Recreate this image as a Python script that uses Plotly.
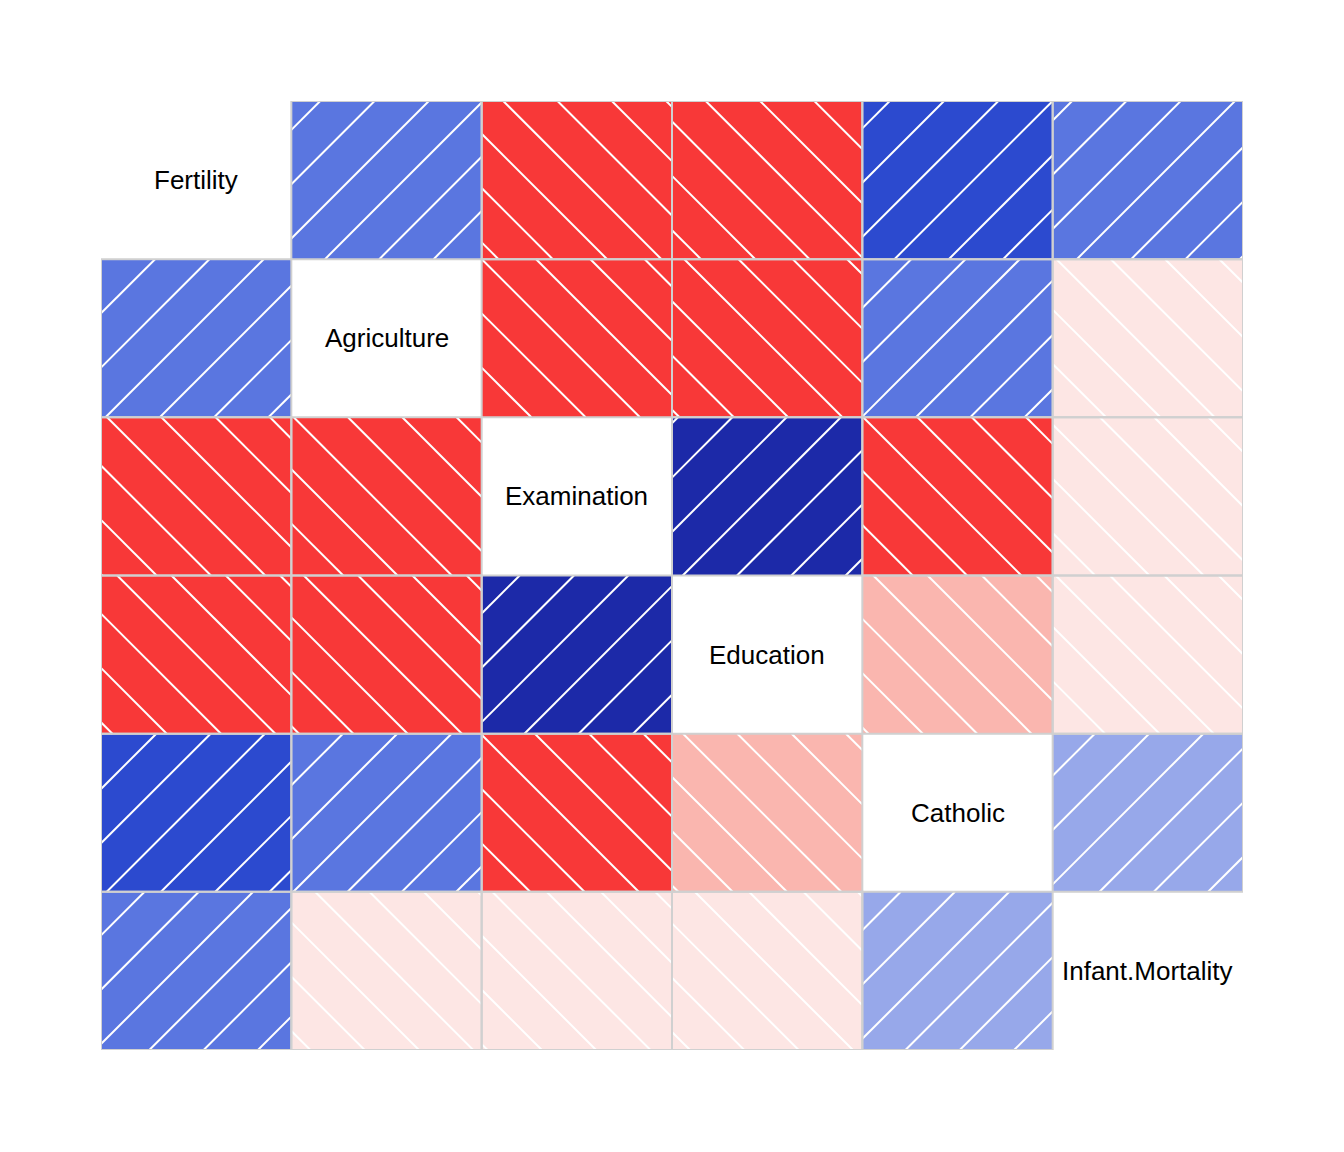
import math
import plotly.graph_objects as go

# ---------------- data ----------------
variables = ["Fertility", "Agriculture", "Examination", "Education", "Catholic", "Infant.Mortality"]
# observed range of each variable (sets the hatch phase of each panel)
var_min = [35.0, 1.2, 3.0, 1.0, 2.15, 10.8]
var_max = [92.5, 89.7, 37.0, 53.0, 100.0, 26.6]

corr = [
    [1.000, 0.353, -0.646, -0.664, 0.464, 0.417],
    [0.353, 1.000, -0.687, -0.640, 0.401, -0.061],
    [-0.646, -0.687, 1.000, 0.698, -0.573, -0.114],
    [-0.664, -0.640, 0.698, 1.000, -0.154, -0.099],
    [0.464, 0.401, -0.573, -0.154, 1.000, 0.175],
    [0.417, -0.061, -0.114, -0.099, 0.175, 1.000],
]

# 14-step shading palette (red -> salmon -> white -> royalblue -> navy)
palette = ["#FF0000", "#FB2020", "#F83838", "#F86A62", "#F99088", "#FAB6AF", "#FDE6E4",
           "#E0E6FA", "#97A8EA", "#5A76E0", "#2C4ACF", "#1C29A8", "#0E1A98", "#000080"]

# ---------------- geometry ----------------
W, H = 1344, 1152
PAGE_OFF = 8                      # default body margin of the html page
ML, MT = 101 - PAGE_OFF, 101 - PAGE_OFF
PW_TOT, PH_TOT = 1142, 949
MR, MB = W - ML - PW_TOT, H - MT - PH_TOT
n = len(variables)
pw = PW_TOT / n      # pixels per cell (x)
ph = PH_TOT / n      # pixels per cell (y)
spacing = 192 / 5 * math.sqrt(2)   # density 5 lines/inch at 192 dpi, 45 deg


def bin_index(r):
    k = int((r + 1) / (2 / 14))
    return min(max(k, 0), 13)


shapes = []
hx, hy = [], []
for i in range(n):
    for j in range(n):
        if i == j:
            continue
        r = corr[i][j]
        col = palette[bin_index(r)]
        shapes.append(dict(type="rect", xref="x", yref="y", x0=j, x1=j + 1, y0=i, y1=i + 1,
                           fillcolor=col, line=dict(width=0), layer="below"))
        shapes.append(dict(type="rect", xref="x", yref="y", x0=j, x1=j + 1, y0=i, y1=i + 1,
                           fillcolor="rgba(0,0,0,0)", line=dict(color="#D0D0D0", width=2),
                           layer="above"))
        # hatch lines anchored at the panel's user-coordinate origin
        L, R = j * pw, (j + 1) * pw
        T, B = i * ph, (i + 1) * ph
        xs = var_max[j] - var_min[j]
        xlo, xhi = var_min[j] - 0.04 * xs, var_max[j] + 0.04 * xs
        ys = var_max[i] - var_min[i]
        ylo, yhi = var_min[i] - 0.04 * ys, var_max[i] + 0.04 * ys
        ox = L + (0 - xlo) / (xhi - xlo) * pw
        oy = T + (yhi - 0) / (yhi - ylo) * ph
        if r > 0:
            c0 = ox + oy
            cmin, cmax = L + T, R + B
        else:
            c0 = ox - oy
            cmin, cmax = L - B, R - T
        k = math.floor((cmin - c0) / spacing)
        while True:
            c = c0 + k * spacing
            k += 1
            if c > cmax:
                break
            if r > 0:
                ya, yb = max(T, c - R), min(B, c - L)
                if yb <= ya:
                    continue
                p = [(c - ya, ya), (c - yb, yb)]
            else:
                ya, yb = max(T, L - c), min(B, R - c)
                if yb <= ya:
                    continue
                p = [(c + ya, ya), (c + yb, yb)]
            for (px, py) in p:
                hx.append(px / pw)
                hy.append(py / ph)
            hx.append(None)
            hy.append(None)

fig = go.Figure()
fig.add_trace(go.Scatter(x=hx, y=hy, mode="lines", line=dict(color="white", width=2),
                         hoverinfo="skip", showlegend=False))

annotations = []
for d, name in enumerate(variables):
    annotations.append(dict(x=d + 0.5, y=d + 0.5, xref="x", yref="y", text=name,
                            showarrow=False,
                            font=dict(family="Liberation Sans, Arial, Helvetica", size=26,
                                      color="black")))

fig.update_layout(
    width=W, height=H,
    margin=dict(l=ML, r=MR, t=MT, b=MB, pad=0),
    paper_bgcolor="white", plot_bgcolor="white",
    shapes=shapes, annotations=annotations,
    xaxis=dict(range=[0, n], visible=False, showgrid=False, zeroline=False, fixedrange=True),
    yaxis=dict(range=[n, 0], visible=False, showgrid=False, zeroline=False, fixedrange=True),
    showlegend=False,
)

fig.write_html("out.html")
